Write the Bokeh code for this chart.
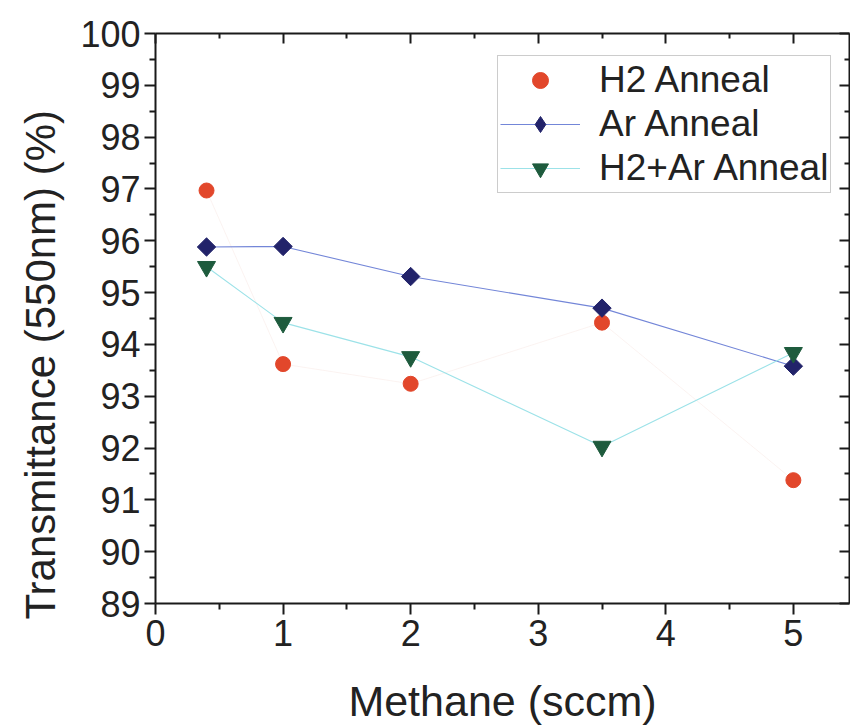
import math
from bokeh.plotting import figure
from bokeh.models import (Range1d, LinearAxis, FixedTicker, Legend, LegendItem,
                          CustomJSTickFormatter, Title)
from bokeh.embed import file_html
from bokeh.resources import INLINE

methane = [0.4, 1, 2, 3.5, 5]
h2_anneal = [96.97, 93.62, 93.24, 94.42, 91.38]
ar_anneal = [95.88, 95.89, 95.31, 94.70, 93.58]
h2ar_anneal = [95.50, 94.42, 93.76, 92.03, 93.84]

x_ticks = [0, 1, 2, 3, 4, 5]
y_ticks = list(range(89, 101))

FONT = "Liberation Sans"
TXT = "#222222"

p = figure(width=850, height=727, output_backend="svg", toolbar_location=None,
           x_range=Range1d(0, 5.44), y_range=Range1d(89, 100),
           min_border_left=155, min_border_top=33, min_border_bottom=124,
           min_border_right=1)
p.grid.visible = False
p.outline_line_color = None
p.background_fill_color = "white"
p.border_fill_color = "white"

def style(ax, inside=False, labels=True):
    ax.axis_line_color = "#1a1a1a"
    ax.axis_line_width = 2
    ax.major_tick_line_color = "#1a1a1a"
    ax.minor_tick_line_color = "#1a1a1a"
    ax.major_tick_line_width = 2
    ax.minor_tick_line_width = 2
    if inside:
        ax.major_tick_in, ax.major_tick_out = 10, 0
        ax.minor_tick_in, ax.minor_tick_out = 5, 0
    else:
        ax.major_tick_in, ax.major_tick_out = 0, 11
        ax.minor_tick_in, ax.minor_tick_out = 0, 6
    ax.major_label_text_font = FONT
    ax.major_label_text_color = TXT
    if not labels:
        ax.formatter = CustomJSTickFormatter(code="return ''")
        ax.major_label_standoff = 0

xt = FixedTicker(ticks=x_ticks, minor_ticks=[v + 0.5 for v in x_ticks])
yt = FixedTicker(ticks=y_ticks, minor_ticks=[v + 0.5 for v in y_ticks[:-1]])

xa = p.xaxis[0]
xa.ticker = xt
style(xa)
xa.major_label_text_font_size = "36px"
xa.major_label_standoff = 5
xa.axis_label = "Methane (sccm)"
xa.axis_label_text_font = FONT
xa.axis_label_text_font_size = "43px"
xa.axis_label_text_font_style = "normal"
xa.axis_label_text_color = TXT
xa.axis_label_standoff = 28

ya = p.yaxis[0]
ya.ticker = yt
style(ya)
ya.major_label_text_font_size = "36px"
ya.major_label_standoff = 4

top = LinearAxis(ticker=xt)
style(top, inside=True, labels=False)
p.add_layout(top, "above")
right = LinearAxis(ticker=yt)
style(right, inside=True, labels=False)
p.add_layout(right, "right")

ytitle = Title(text="Transmittance (550nm) (%)", align="left", offset=-16,
               text_font=FONT, text_font_size="42px", text_font_style="normal",
               text_color=TXT, standoff=27, text_line_height=0.6)
p.add_layout(ytitle, "left")

# faint H2 trace
p.line(methane, h2_anneal, line_color="#f3dcd6", line_width=1, line_alpha=0.35)
l_ar = p.line(methane, ar_anneal, line_color="#7386d8", line_width=1.1)
l_h2ar = p.line(methane, h2ar_anneal, line_color="#9ce2e8", line_width=1.1)

m_h2 = p.scatter(methane, h2_anneal, marker="circle", size=15,
                 fill_color="#e2472b", line_color="#e2472b")
p.scatter(methane, ar_anneal, marker="square", size=13, angle=math.pi / 4,
          fill_color="#22236a", line_color="#22236a")
m_h2ar = p.scatter(methane, h2ar_anneal, marker="inverted_triangle", size=18,
                   fill_color="#1e5b3d", line_color="#1e5b3d")
# legend-only diamond (legend glyphs are never rotated)
m_ar_leg = p.scatter(methane, ar_anneal, marker="diamond", size=20,
                     fill_color="#22236a", line_color="#22236a", visible=False)

legend = Legend(items=[
    LegendItem(label="H2 Anneal", renderers=[m_h2]),
    LegendItem(label="Ar Anneal", renderers=[l_ar, m_ar_leg]),
    LegendItem(label="H2+Ar Anneal", renderers=[l_h2ar, m_h2ar]),
], location=(342, 410))
legend.label_text_font = FONT
legend.label_text_font_size = "37px"
legend.label_text_color = TXT
legend.glyph_width = 80
legend.glyph_height = 40
legend.label_height = 44
legend.spacing = 0
legend.padding = 2
legend.margin = 0
legend.label_standoff = 19
legend.border_line_color = "#9a9a9a"
legend.border_line_width = 1
legend.background_fill_alpha = 1
p.add_layout(legend, "center")

open("out.html", "w").write(file_html(p, INLINE))
